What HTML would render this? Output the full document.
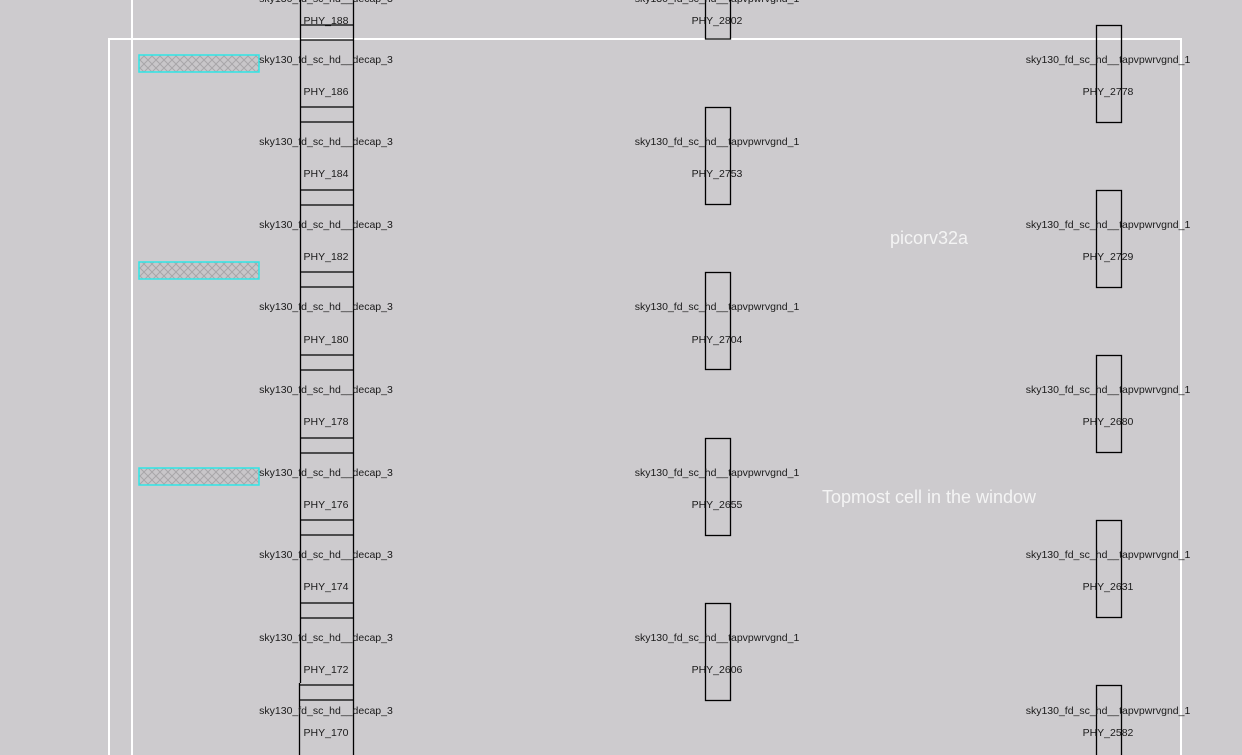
<!DOCTYPE html>
<html><head><meta charset="utf-8"><style>
html,body{margin:0;padding:0;background:#cdcbce;}
svg{display:block;}
text{font-family:"Liberation Sans",sans-serif;fill:#1a1a1a;font-size:10.5px;}
</style></head><body>
<svg width="1242" height="755" xmlns="http://www.w3.org/2000/svg">
<defs>
<pattern id="h" width="8" height="8" patternUnits="userSpaceOnUse">
<rect width="8" height="8" fill="#c8c6c9"/>
<path d="M0 0L8 8M8 0L0 8" stroke="#a8a6a9" stroke-width="1"/>
</pattern>
</defs>
<rect width="1242" height="755" fill="#cdcbce"/>
<line x1="132" y1="0" x2="132" y2="755" stroke="#fff" stroke-width="2"/>
<rect x="109" y="39" width="1072" height="730" fill="none" stroke="#fff" stroke-width="2"/>
<rect x="139" y="55" width="120" height="17" fill="url(#h)" stroke="#2ee6e6" stroke-width="1.5"/>
<rect x="139" y="262" width="120" height="17" fill="url(#h)" stroke="#2ee6e6" stroke-width="1.5"/>
<rect x="139" y="468" width="120" height="17" fill="url(#h)" stroke="#2ee6e6" stroke-width="1.5"/>
<g stroke="#000" stroke-width="1.3" fill="none">
<line x1="300.5" y1="0" x2="300.5" y2="683"/>
<line x1="299.5" y1="683" x2="299.5" y2="755"/>
<line x1="353.5" y1="0" x2="353.5" y2="755"/>
<line x1="300" y1="25" x2="354" y2="25"/>
<line x1="300" y1="40" x2="354" y2="40"/>
<line x1="300" y1="107" x2="354" y2="107"/>
<line x1="300" y1="122" x2="354" y2="122"/>
<line x1="300" y1="190" x2="354" y2="190"/>
<line x1="300" y1="205" x2="354" y2="205"/>
<line x1="300" y1="272" x2="354" y2="272"/>
<line x1="300" y1="287" x2="354" y2="287"/>
<line x1="300" y1="355" x2="354" y2="355"/>
<line x1="300" y1="370" x2="354" y2="370"/>
<line x1="300" y1="438" x2="354" y2="438"/>
<line x1="300" y1="453" x2="354" y2="453"/>
<line x1="300" y1="520" x2="354" y2="520"/>
<line x1="300" y1="535" x2="354" y2="535"/>
<line x1="300" y1="603" x2="354" y2="603"/>
<line x1="300" y1="618" x2="354" y2="618"/>
<line x1="299" y1="685" x2="354" y2="685"/>
<line x1="299" y1="700" x2="354" y2="700"/>
<rect x="705.5" y="-5" width="25" height="44"/>
<rect x="705.5" y="107.5" width="25" height="97"/>
<rect x="705.5" y="272.5" width="25" height="97"/>
<rect x="705.5" y="438.5" width="25" height="97"/>
<rect x="705.5" y="603.5" width="25" height="97"/>
<rect x="1096.5" y="25.5" width="25" height="97"/>
<rect x="1096.5" y="190.5" width="25" height="97"/>
<rect x="1096.5" y="355.5" width="25" height="97"/>
<rect x="1096.5" y="520.5" width="25" height="97"/>
<rect x="1096.5" y="685.5" width="25" height="97"/>
</g>
<g text-anchor="middle">
<text x="326" y="2">sky130_fd_sc_hd__decap_3</text><text x="326" y="24">PHY_188</text>
<text x="326" y="63">sky130_fd_sc_hd__decap_3</text><text x="326" y="95">PHY_186</text>
<text x="326" y="145">sky130_fd_sc_hd__decap_3</text><text x="326" y="177">PHY_184</text>
<text x="326" y="228">sky130_fd_sc_hd__decap_3</text><text x="326" y="260">PHY_182</text>
<text x="326" y="310">sky130_fd_sc_hd__decap_3</text><text x="326" y="343">PHY_180</text>
<text x="326" y="393">sky130_fd_sc_hd__decap_3</text><text x="326" y="425">PHY_178</text>
<text x="326" y="476">sky130_fd_sc_hd__decap_3</text><text x="326" y="508">PHY_176</text>
<text x="326" y="558">sky130_fd_sc_hd__decap_3</text><text x="326" y="590">PHY_174</text>
<text x="326" y="641">sky130_fd_sc_hd__decap_3</text><text x="326" y="673">PHY_172</text>
<text x="326" y="714">sky130_fd_sc_hd__decap_3</text><text x="326" y="736">PHY_170</text>

<text x="717" y="2">sky130_fd_sc_hd__tapvpwrvgnd_1</text><text x="717" y="24">PHY_2802</text>
<text x="717" y="145">sky130_fd_sc_hd__tapvpwrvgnd_1</text><text x="717" y="177">PHY_2753</text>
<text x="717" y="310">sky130_fd_sc_hd__tapvpwrvgnd_1</text><text x="717" y="343">PHY_2704</text>
<text x="717" y="476">sky130_fd_sc_hd__tapvpwrvgnd_1</text><text x="717" y="508">PHY_2655</text>
<text x="717" y="641">sky130_fd_sc_hd__tapvpwrvgnd_1</text><text x="717" y="673">PHY_2606</text>

<text x="1108" y="63">sky130_fd_sc_hd__tapvpwrvgnd_1</text><text x="1108" y="95">PHY_2778</text>
<text x="1108" y="228">sky130_fd_sc_hd__tapvpwrvgnd_1</text><text x="1108" y="260">PHY_2729</text>
<text x="1108" y="393">sky130_fd_sc_hd__tapvpwrvgnd_1</text><text x="1108" y="425">PHY_2680</text>
<text x="1108" y="558">sky130_fd_sc_hd__tapvpwrvgnd_1</text><text x="1108" y="590">PHY_2631</text>
<text x="1108" y="714">sky130_fd_sc_hd__tapvpwrvgnd_1</text><text x="1108" y="736">PHY_2582</text>

<text x="929" y="244" style="fill:#f4f4f4;font-size:18px">picorv32a</text>
<text x="929" y="503" style="fill:#f4f4f4;font-size:18px">Topmost cell in the window</text>
</g>
</svg>
</body></html>
